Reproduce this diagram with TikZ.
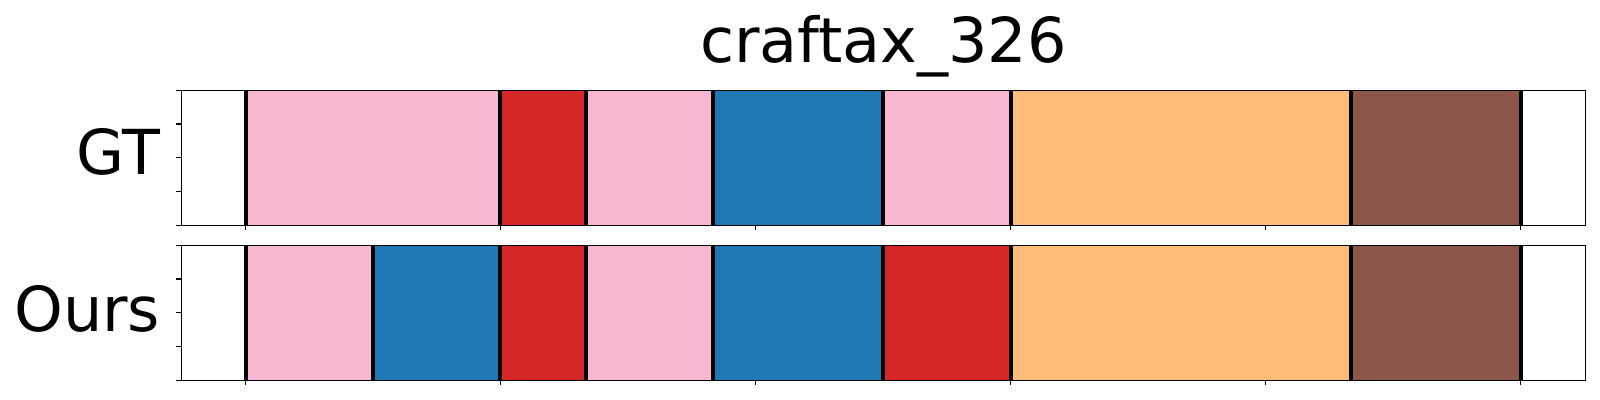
\documentclass[tikz,border=0pt]{standalone}
\usepackage{fontspec}
\setmainfont{DejaVu Sans}
\definecolor{cpink}{HTML}{F7B6D2}
\definecolor{cred}{HTML}{D62728}
\definecolor{cblue}{HTML}{1F77B4}
\definecolor{corange}{HTML}{FFBB78}
\definecolor{cbrown}{HTML}{8C564B}
\begin{document}
\begin{tikzpicture}[x=0.5pt,y=-0.5pt,
  seg/.style={line width=0.3pt},
  bar/.style={line width=2pt,black},
  frame/.style={line width=0.6pt,black},
  tick/.style={line width=0.6pt,black},
  lab/.style={font=\fontsize{31}{37}\selectfont,inner sep=0pt}]
\useasboundingbox (0,0) rectangle (1600,400);
% title
\node[lab,anchor=base] (title) at (883.5,63) {craftax\_326};
\node[lab,anchor=base east] (gt) at (160.5,175) {GT};
\node[lab,anchor=base east] (ours) at (160.5,332) {Ours};
% GT row
\foreach \a/\b/\c in {245.7/500.3/cpink,500.3/586/cred,586/713/cpink,713/883/cblue,883/1011/cpink,1011/1351/corange,1351/1521/cbrown}
  \fill[\c,draw=\c!85!black,seg] (\a,90.3) rectangle (\b,225.3);
\foreach \x in {245.7,500.3,586,713,883,1011,1351,1521}
  \draw[bar] (\x,90.3) -- (\x,225.3);
\draw[frame] (181.3,90.3) rectangle (1585.7,225.3);
% Ours row
\foreach \a/\b/\c in {245.7/373/cpink,373/500.3/cblue,500.3/586/cred,586/713/cpink,713/883/cblue,883/1011/cred,1011/1351/corange,1351/1521/cbrown}
  \fill[\c,draw=\c!85!black,seg] (\a,245.3) rectangle (\b,380.3);
\foreach \x in {245.7,373,500.3,586,713,883,1011,1351,1521}
  \draw[bar] (\x,245.3) -- (\x,380.3);
\draw[frame] (181.3,245.3) rectangle (1585.7,380.3);
% ticks
\foreach \k in {0,...,5}{
  \draw[tick] ({245.7+255*\k},225.3) -- ++(0,5);
  \draw[tick] ({245.7+255*\k},380.3) -- ++(0,5);
}
\foreach \f in {0,0.25,0.5,0.75,1}{
  \draw[tick] (181.3,{90.3+135*\f}) -- ++(-5,0);
  \draw[tick] (181.3,{245.3+135*\f}) -- ++(-5,0);
}
\end{tikzpicture}
\end{document}
